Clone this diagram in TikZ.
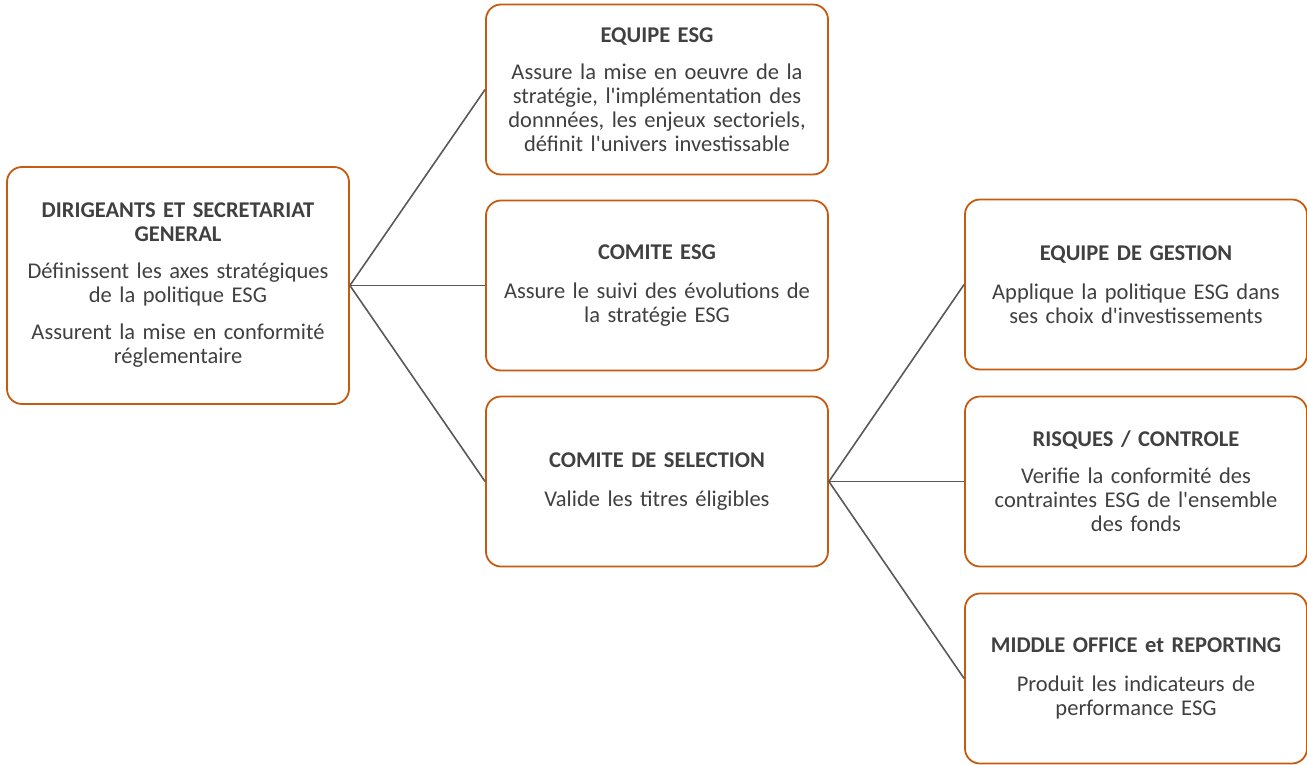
\documentclass[tikz,border=0pt]{standalone}
\usepackage{fontspec}
\setmainfont{Carlito}[Ligatures=TeXOff]
\definecolor{boxorange}{HTML}{C55A11}
\definecolor{txtgray}{HTML}{404040}
\definecolor{linegray}{HTML}{595959}
\begin{document}
\begin{tikzpicture}[
                x=1pt, y=1pt,
                every node/.style={draw=boxorange, line width=1.8pt, rounded corners=15pt,
                    fill=white, text=txtgray, align=center, text width=334pt, inner sep=4pt,
                    minimum width=342pt, minimum height=170pt,
                    font=\fontsize{22.5}{24}\selectfont},
                grow'=right,
                level distance=479pt,
                level 1/.style={sibling distance=196pt},
                level 2/.style={sibling distance=197pt},
                edge from parent/.style={draw=linegray, line width=1.6pt},
                edge from parent path={(\tikzparentnode.east) -- (\tikzchildnode.west)},
            ]
            \useasboundingbox (-178,285.5) rectangle (1129,-478.5);
            \node[minimum height=237pt] (dirigeants) {\textbf{DIRIGEANTS ET SECRETARIAT}\\\textbf{GENERAL}\\[13pt]
                Définissent les axes stratégiques\\de la politique ESG\\[13pt]
                Assurent la mise en conformité\\réglementaire}
            child {node (equipeesg) {\textbf{EQUIPE ESG}\\[13pt]
                Assure la mise en oeuvre de la\\stratégie, l'implémentation des\\donnnées, les enjeux sectoriels,\\définit l'univers investissable\\[6pt]}}
            child {node (comiteesg) {\textbf{COMITE ESG}\\[15pt]
                Assure le suivi des évolutions de\\la stratégie ESG}}
            child {node (selection) {\textbf{COMITE DE SELECTION}\\[15pt]
                Valide les titres éligibles}
                child {node (gestion) {\textbf{EQUIPE DE GESTION}\\[15pt]
                    Applique la politique ESG dans\\ses choix d'investissements}}
                child {node (risques) {\textbf{RISQUES / CONTROLE}\\[13pt]
                    Verifie la conformité des\\contraintes ESG de l'ensemble\\des fonds}}
                child {node (middle) {\textbf{MIDDLE OFFICE et REPORTING}\\[15pt]
                    Produit les indicateurs de\\performance ESG}}
            };
            \end{tikzpicture}
\end{document}
